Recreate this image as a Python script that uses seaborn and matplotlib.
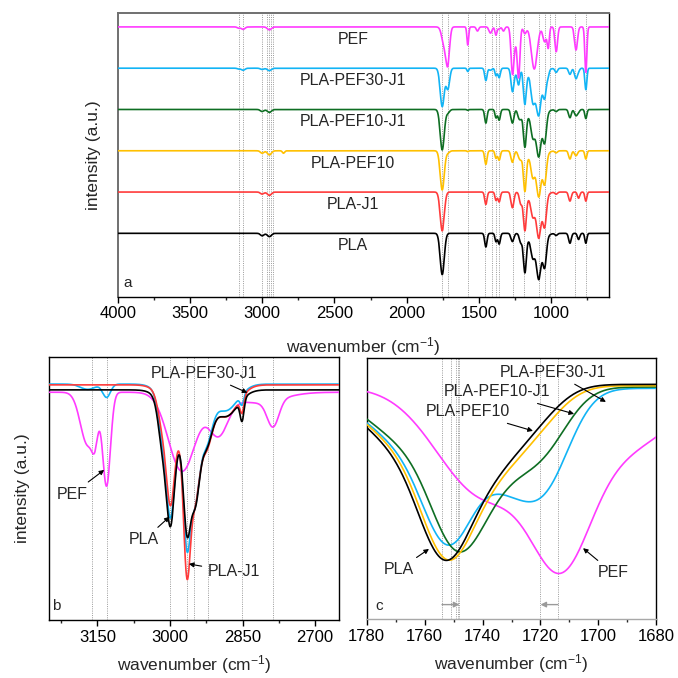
import numpy as np
import pandas as pd
import matplotlib
matplotlib.use("Agg")
import matplotlib.pyplot as plt
from matplotlib.ticker import MultipleLocator, NullLocator
import seaborn as sns

# ---------------- data ----------------
samples = ["PLA", "PLA-J1", "PLA-PEF10", "PLA-PEF10-J1", "PLA-PEF30-J1", "PEF"]
colors = ["#000000", "#FF3B3B", "#FFC000", "#0E6E23", "#12B4F5", "#FF3BFF"]

# panel a: absorption bands (cm-1), band widths (cm-1) and band depths per sample (a.u.)
a_centres = [3162, 3131, 3000, 2950, 2852, 1754, 1740, 1715, 1577, 1510, 1452, 1420, 1382, 1360, 1330,
             1268, 1245, 1225, 1210, 1182, 1128, 1117, 1085, 1045, 1100, 1020, 965, 870, 828, 810, 760]
a_widths = [10, 12, 12, 14, 8, 14, 16, 12, 6, 8, 8, 10, 7, 8, 8,
            10, 15, 9, 10, 10, 11, 20, 14, 12, 40, 7, 9, 9, 10, 8, 7]
a_depth_pla = [0, 0, 0.06, 0.08, 0, 1.0, 0, 0, 0, 0, 0.33, 0, 0.20, 0.26, 0,
               0.20, 0, 0, 0.22, 0.90, 0.26, 0, 0.70, 0.66, 0.45, 0, 0.05, 0.24, 0, 0.15, 0.24]
a_depth_pla_j1 = [0, 0, 0.05, 0.08, 0, 0.94, 0, 0, 0, 0, 0.30, 0, 0.20, 0.24, 0,
                  0.38, 0, 0, 0.28, 0.88, 0.26, 0, 0.70, 0.68, 0.45, 0, 0.05, 0.22, 0, 0.15, 0.22]
a_depth_pef10 = [0, 0, 0.06, 0.10, 0.06, 0.95, 0, 0.05, 0.02, 0, 0.33, 0, 0.18, 0.23, 0,
                 0.28, 0, 0.10, 0.18, 0.93, 0.31, 0, 0.70, 0.64, 0.45, 0, 0.05, 0.20, 0.12, 0, 0.20]
a_depth_pef10_j1 = [0, 0, 0.05, 0.07, 0, 0.98, 0, 0.08, 0.02, 0, 0.33, 0, 0.20, 0.26, 0,
                    0.33, 0, 0.15, 0.18, 0.86, 0.26, 0.10, 0.70, 0.64, 0.45, 0, 0.05, 0.20, 0.15, 0.05, 0.22]
a_depth_pef30_j1 = [0.02, 0.05, 0.03, 0.06, 0, 0.93, 0, 0.50, 0.08, 0, 0.30, 0.05, 0.18, 0.23, 0,
                    0.54, 0.10, 0.36, 0, 0.83, 0.31, 0.26, 0.70, 0.58, 0.40, 0.10, 0.10, 0.15, 0.25, 0.05, 0.52]
a_depth_pef = [0.03, 0.06, 0, 0.07, 0, 0, 0.45, 0.82, 0.44, 0.10, 0, 0.15, 0.20, 0.05, 0.10,
               1.05, 0.32, 1.10, 0, 0.16, 0, 1.02, 0, 0.36, 0, 0.48, 0.60, 0, 0.56, 0, 1.10]
a_offsets = [0, 1, 2, 3, 4, 5]
a_lines = [3162, 3131, 3000, 2965, 2950, 2940, 2922, 1757, 1715, 1577, 1455, 1411, 1381, 1360,
           1262, 1185, 1083, 1045, 1010, 971, 833, 759]

# panel b: C-H stretching region
b_samples = ["PEF", "PLA-PEF30-J1", "PLA-J1", "PLA"]
b_centres = [3170, 3155, 3131, 3015, 2999, 2975, 2965, 2948, 2925, 2900, 2885, 2851, 2820, 2787]
b_widths = [15, 6, 8, 9, 8, 28, 7, 9, 12, 20, 25, 4, 50, 12]
b_depth_pla = [0, 0, 0, 0.15, 0.35, 0.20, 0.32, 0.28, 0.15, 0, 0.10, 0.08, 0, 0]
b_depth_pla_j1 = [0, 0, 0, 0.10, 0.30, 0.20, 0.50, 0.28, 0.17, 0, 0.12, 0.06, 0, 0]
b_depth_pef30_j1 = [0.02, 0, 0.05, 0.13, 0.33, 0.22, 0.38, 0.28, 0.16, 0, 0.10, 0.04, 0, 0]
b_depth_pef = [0.20, 0.10, 0.35, 0, 0, 0.30, 0, 0, 0, 0.15, 0, 0, 0.04, 0.10]
b_base = [0.865, 0.896, 0.893, 0.874]
b_lines = [3162, 3131, 3000, 2965, 2950, 2922, 2852, 2787]

# panel c: carbonyl region
c_samples = ["PEF", "PLA-PEF30-J1", "PLA-PEF10-J1", "PLA-PEF10", "PLA"]
c_widths = [9, 15, 10, 9]
c_centres_pla = [1753, 1768, 1737, 1722]
c_depths_pla = [0.47, 0.22, 0.25, 0.10]
c_centres_pef10 = [1752, 1767, 1736, 1721]
c_depths_pef10 = [0.47, 0.21, 0.25, 0.11]
c_centres_pef10_j1 = [1749, 1765, 1735, 1719]
c_depths_pef10_j1 = [0.42, 0.20, 0.25, 0.20]
c_centres_pef30_j1 = [1751, 1766, 1733, 1719]
c_depths_pef30_j1 = [0.46, 0.20, 0.22, 0.36]
c_widths_pef30_j1 = [9, 15, 8, 9]
c_centres_pef = [1713, 1695, 1740]
c_depths_pef = [0.45, 0.25, 0.40]
c_widths_pef = [10, 20, 16]
c_base = [0.89, 0.885, 0.89, 0.895, 0.90]
c_lines = [1754, 1751, 1749.3, 1748.6, 1748, 1720, 1714]
c_shift_from = [1754, 1714]
c_shift_to = [1748, 1720]


def spectrum(wn, base, centres, widths, depths):
    y = np.full_like(wn, base, dtype=float)
    for c, w, d in zip(centres, widths, depths):
        y = y - d * np.exp(-0.5 * ((wn - c) / w) ** 2)
    return y


# ---------------- style ----------------
sns.set_theme(style="white")
plt.rcParams["font.family"] = ["Liberation Sans", "DejaVu Sans"]
plt.rcParams["mathtext.fontset"] = "custom"
plt.rcParams["mathtext.rm"] = "Liberation Sans"
plt.rcParams["mathtext.it"] = "Liberation Sans:italic"
col = dict(zip(samples, colors))

fig = plt.figure(figsize=(6.78, 6.78), dpi=100)
ax_a = fig.add_axes([0.1736, 0.5624, 0.7246, 0.418])
ax_b = fig.add_axes([0.0723, 0.0855, 0.4282, 0.3884])
ax_c = fig.add_axes([0.5409, 0.0863, 0.4271, 0.3853])

grid_line = dict(color="#9a9a9a", lw=0.7, ls=(0, (1, 1.3)), zorder=0)
label_fs = 11.5
tick_fs = 12
xlabel = r"wavenumber (cm$^{\mathregular{-1}}$)"

# ---------------- panel a ----------------
wn_a = np.arange(600, 4000.5, 1.0)
a_depths = [a_depth_pla, a_depth_pla_j1, a_depth_pef10, a_depth_pef10_j1, a_depth_pef30_j1, a_depth_pef]
for v in a_lines:
    ax_a.axvline(v, **grid_line)
for name, off, dep in zip(samples, a_offsets, a_depths):
    df = pd.DataFrame({"wn": wn_a, "y": spectrum(wn_a, off, a_centres, a_widths, dep)})
    sns.lineplot(data=df, x="wn", y="y", ax=ax_a, color=col[name], lw=1.2, sort=False, zorder=3)
    ax_a.text(2372, off - 0.30, name, ha="center", va="center", fontsize=label_fs, zorder=4)
ax_a.set_xlim(4000, 600)
ax_a.set_ylim(-1.535, 5.33)
ax_a.xaxis.set_major_locator(MultipleLocator(500))
ax_a.xaxis.set_minor_locator(MultipleLocator(250))
ax_a.text(0.012, 0.025, "a", transform=ax_a.transAxes, fontsize=11, ha="left", va="bottom")
ax_a.set_ylabel("intensity (a.u.)", fontsize=12.5, labelpad=12)

# ---------------- panel b ----------------
wn_b = np.arange(2650, 3250.5, 0.5)
b_depths = [b_depth_pef, b_depth_pef30_j1, b_depth_pla_j1, b_depth_pla]
for v in b_lines:
    ax_b.axvline(v, **grid_line)
for name, base, dep in zip(b_samples, b_base, b_depths):
    df = pd.DataFrame({"wn": wn_b, "y": spectrum(wn_b, base, b_centres, b_widths, dep)})
    sns.lineplot(data=df, x="wn", y="y", ax=ax_b, color=col[name], lw=1.2, sort=False, zorder=3)
ax_b.set_xlim(3250, 2650)
ax_b.set_ylim(0, 1)
ax_b.xaxis.set_major_locator(MultipleLocator(150))
ax_b.xaxis.set_minor_locator(MultipleLocator(75))
arrow = dict(arrowstyle="-|>", color="black", lw=0.8, mutation_scale=7, shrinkA=2, shrinkB=0)
ax_b.annotate("PLA-PEF30-J1", xy=(2840, 0.863), xytext=(2930, 0.937), fontsize=label_fs,
              ha="center", va="center", arrowprops=arrow)
ax_b.annotate("PEF", xy=(3136, 0.57), xytext=(3203, 0.477), fontsize=label_fs,
              ha="center", va="center", arrowprops=arrow)
ax_b.annotate("PLA", xy=(3001, 0.392), xytext=(3054, 0.304), fontsize=label_fs,
              ha="center", va="center", arrowprops=arrow)
ax_b.annotate("PLA-J1", xy=(2961, 0.213), xytext=(2868, 0.183), fontsize=label_fs,
              ha="center", va="center", arrowprops=arrow)
ax_b.text(0.012, 0.025, "b", transform=ax_b.transAxes, fontsize=11, ha="left", va="bottom")
ax_b.set_ylabel("intensity (a.u.)", fontsize=12.5, labelpad=14)

# ---------------- panel c ----------------
wn_c = np.arange(1680, 1780.1, 0.2)
c_sets = [(c_centres_pef, c_widths_pef, c_depths_pef),
          (c_centres_pef30_j1, c_widths_pef30_j1, c_depths_pef30_j1),
          (c_centres_pef10_j1, c_widths, c_depths_pef10_j1),
          (c_centres_pef10, c_widths, c_depths_pef10),
          (c_centres_pla, c_widths, c_depths_pla)]
for v in c_lines:
    ax_c.axvline(v, **grid_line)
for name, base, (cc, ww, dd) in zip(c_samples, c_base, c_sets):
    df = pd.DataFrame({"wn": wn_c, "y": spectrum(wn_c, base, cc, ww, dd)})
    sns.lineplot(data=df, x="wn", y="y", ax=ax_c, color=col[name], lw=1.2, sort=False, zorder=3)
ax_c.set_xlim(1780, 1680)
ax_c.set_ylim(0, 1)
ax_c.xaxis.set_major_locator(MultipleLocator(20))
ax_c.xaxis.set_minor_locator(MultipleLocator(10))
for f, t in zip(c_shift_from, c_shift_to):
    ax_c.annotate("", xy=(t, 0.057), xytext=(f, 0.057),
                  arrowprops=dict(arrowstyle="-|>", color="#9a9a9a", lw=1.0, mutation_scale=8,
                                  shrinkA=0, shrinkB=0))
ax_c.annotate("PLA-PEF30-J1", xy=(1697.4, 0.833), xytext=(1715.6, 0.947), fontsize=label_fs,
              ha="center", va="center", arrowprops=arrow)
ax_c.annotate("PLA-PEF10-J1", xy=(1708.4, 0.787), xytext=(1735, 0.871), fontsize=label_fs,
              ha="center", va="center", arrowprops=arrow)
ax_c.annotate("PLA-PEF10", xy=(1722.6, 0.722), xytext=(1745, 0.795), fontsize=label_fs,
              ha="center", va="center", arrowprops=arrow)
ax_c.annotate("PLA", xy=(1758.5, 0.27), xytext=(1769, 0.19), fontsize=label_fs,
              ha="center", va="center", arrowprops=arrow)
ax_c.annotate("PEF", xy=(1705.3, 0.273), xytext=(1695, 0.178), fontsize=label_fs,
              ha="center", va="center", arrowprops=arrow)
ax_c.text(0.03, 0.025, "c", transform=ax_c.transAxes, fontsize=11, ha="left", va="bottom")
ax_c.set_ylabel("")

# ---------------- common axis styling ----------------
for ax in (ax_a, ax_b, ax_c):
    ax.set_xlabel(xlabel, fontsize=12.5, labelpad=6)
    ax.yaxis.set_major_locator(NullLocator())
    ax.tick_params(axis="x", which="major", direction="out", length=4, width=1, labelsize=tick_fs,
                   bottom=True, top=False, pad=3, colors="black")
    ax.tick_params(axis="x", which="minor", direction="out", length=2.5, width=1, bottom=True, top=False)
    for s in ax.spines.values():
        s.set_color("black")
        s.set_linewidth(1.0)
ax_a.xaxis.labelpad = 10
ax_a.spines["top"].set_color("#707070")
ax_a.spines["left"].set_color("#707070")
ax_a.spines["top"].set_linewidth(1.4)
ax_a.spines["left"].set_linewidth(1.4)
ax_c.spines["bottom"].set_color("#a8a8a8")

fig.savefig("out.png", dpi=100)
